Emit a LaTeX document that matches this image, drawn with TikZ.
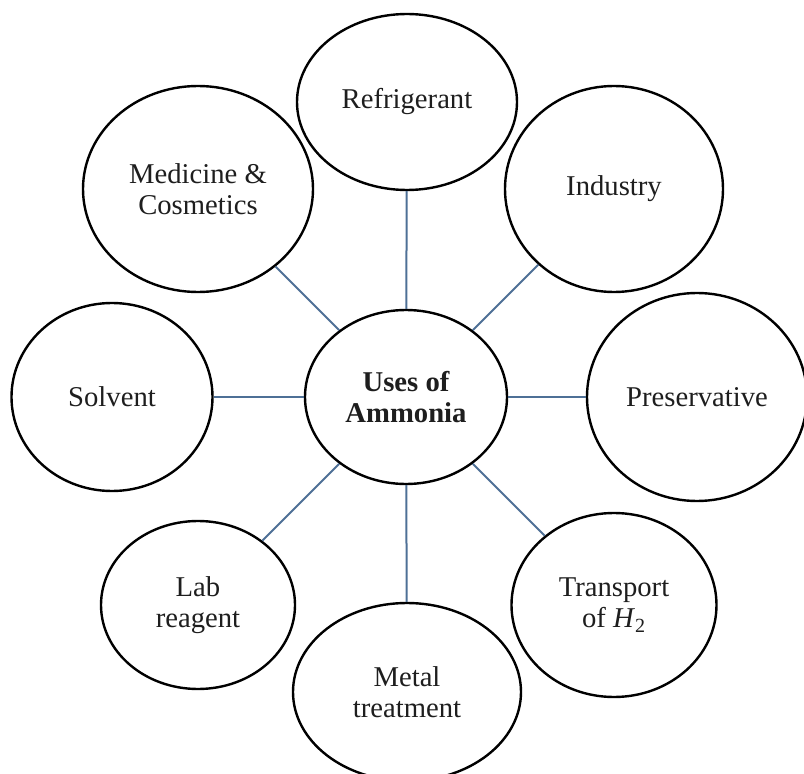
\documentclass[tikz,border=0pt]{standalone}
\usepackage{fontspec}
\setmainfont{Liberation Serif}
\usetikzlibrary{shapes.geometric}
\definecolor{linkblue}{RGB}{78,112,150}
\definecolor{txt}{RGB}{30,30,30}
\tikzset{
  use/.style={ellipse, draw=black, line width=1.8pt, fill=white, inner sep=0pt,
    align=center, text=txt, font=\fontsize{21.5}{23.5}\selectfont},
  hub/.style={use, font=\bfseries\fontsize{21.5}{23.5}\selectfont},
  sz/.style 2 args={minimum width={#1*0.75pt}, minimum height={#2*0.75pt}},
  link/.style={draw=linkblue, line width=1.5pt}
}
\begin{document}
\begin{tikzpicture}[x=0.75pt,y=-0.75pt]
\useasboundingbox (0,0) rectangle (804,774);
\node[hub, sz={202}{174}] (c) at (406,397) {Uses of\\Ammonia};
\node[use, sz={220}{176}] (ref) at (407,102) {Refrigerant};
\node[use, sz={218}{206}] (ind) at (614,189) {Industry};
\node[use, sz={230}{206}] (med) at (198,189) {Medicine \&\\Cosmetics};
\node[use, sz={201}{188}] (sol) at (112,397) {Solvent};
\node[use, sz={220}{208}] (pre) at (697,397) {Preservative};
\node[use, sz={194}{168}] (lab) at (198,605) {Lab\\reagent};
\node[use, sz={228}{178}] (met) at (407,692) {Metal\\treatment};
\node[use, sz={205}{184}] (tra) at (614,605) {Transport\\of \textit{H}\textsubscript{2}};
\foreach \n in {ref,ind,med,sol,pre,lab,met,tra}
  \draw[link] (c) -- (\n);
\end{tikzpicture}
\end{document}
